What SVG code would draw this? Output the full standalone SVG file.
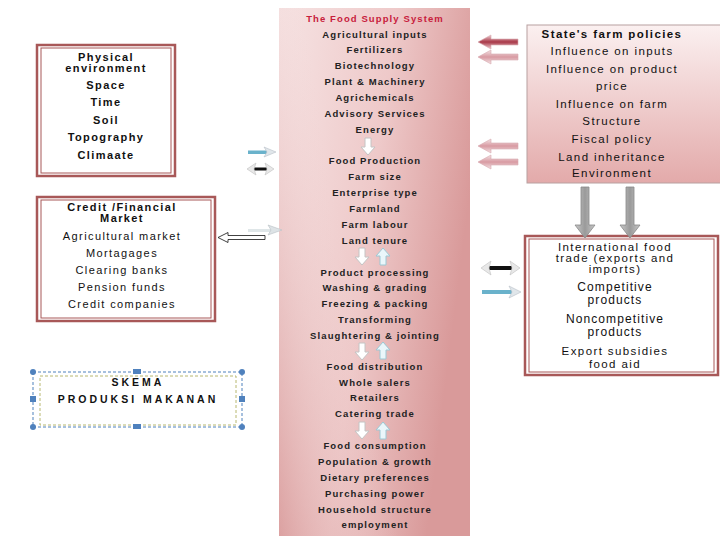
<svg xmlns="http://www.w3.org/2000/svg" width="720" height="540" viewBox="0 0 720 540">
<defs>
<linearGradient id="colg" x1="0" y1="0" x2="1" y2="0.35">
<stop offset="0" stop-color="#f6e3e3"/>
<stop offset="0.55" stop-color="#eec9c9"/>
<stop offset="1" stop-color="#d99a9a"/>
</linearGradient>
<linearGradient id="colg2" x1="0" y1="1" x2="1" y2="0.5">
<stop offset="0" stop-color="#d69494" stop-opacity="0.8"/>
<stop offset="0.5" stop-color="#f2d6d6" stop-opacity="0"/>
</linearGradient>
<linearGradient id="polg" x1="0" y1="0" x2="0" y2="1">
<stop offset="0" stop-color="#fbf0f0"/>
<stop offset="1" stop-color="#e3aaaa"/>
</linearGradient>
<linearGradient id="greyg" x1="0" y1="0" x2="1" y2="0">
<stop offset="0" stop-color="#c8c8c8"/>
<stop offset="0.5" stop-color="#9a9a9a"/>
<stop offset="1" stop-color="#c8c8c8"/>
</linearGradient>
<linearGradient id="redg" x1="0" y1="0" x2="0" y2="1">
<stop offset="0" stop-color="#f0d0d4"/>
<stop offset="0.5" stop-color="#a83848"/>
<stop offset="1" stop-color="#f0d0d4"/>
</linearGradient>
<linearGradient id="pinkg" x1="0" y1="0" x2="0" y2="1">
<stop offset="0" stop-color="#f4e4e6"/>
<stop offset="0.5" stop-color="#d89aa2"/>
<stop offset="1" stop-color="#f4e4e6"/>
</linearGradient>
</defs>
<style>
.c{font-family:"Liberation Sans",Arial,sans-serif;font-size:9.5px;font-weight:bold;letter-spacing:1.1px;fill:#222;text-anchor:middle}
.ct{fill:#c8203c}
.lb{font-family:"Liberation Sans",Arial,sans-serif;font-size:11px;font-weight:bold;letter-spacing:1.4px;fill:#111;text-anchor:middle}
.lr{font-family:"Liberation Sans",Arial,sans-serif;font-size:11px;letter-spacing:1.4px;fill:#111;text-anchor:middle}
.rr{font-family:"Liberation Sans",Arial,sans-serif;font-size:11.5px;letter-spacing:1.4px;fill:#111;text-anchor:middle}
.rl{font-family:"Liberation Sans",Arial,sans-serif;font-size:12px;letter-spacing:1.1px;fill:#111;text-anchor:middle}
.sk{font-family:"Liberation Sans",Arial,sans-serif;font-size:10.5px;font-weight:900;letter-spacing:3px;fill:#111;text-anchor:middle}
.dbl{fill:#fff;stroke:#a85858;stroke-width:2.5}
.dbi{fill:none;stroke:#a85858;stroke-width:1}
.hd{fill:#fff;stroke:#c4c4c4;stroke-width:1}
.hu{fill:#eaf6fa;stroke:#9cc8d4;stroke-width:1}
.h{fill:#4f81bd}
</style>
<rect width="720" height="540" fill="#fff"/>

<g id="food-supply-system">
<rect x="279" y="8" width="191" height="528" fill="url(#colg)"/>
<rect x="279" y="8" width="191" height="528" fill="url(#colg2)"/>
<text class="c ct" x="375" y="22">The Food Supply System</text>
<text class="c" x="375" y="38">Agricultural inputs</text>
<text class="c" x="375" y="53">Fertilizers</text>
<text class="c" x="375" y="69">Biotechnology</text>
<text class="c" x="375" y="85">Plant &amp; Machinery</text>
<text class="c" x="375" y="101">Agrichemicals</text>
<text class="c" x="375" y="117">Advisory Services</text>
<text class="c" x="375" y="133">Energy</text>
<text class="c" x="375" y="164">Food Production</text>
<text class="c" x="375" y="180">Farm size</text>
<text class="c" x="375" y="196">Enterprise type</text>
<text class="c" x="375" y="212">Farmland</text>
<text class="c" x="375" y="228">Farm labour</text>
<text class="c" x="375" y="244">Land tenure</text>
<text class="c" x="375" y="276">Product processing</text>
<text class="c" x="375" y="291">Washing &amp; grading</text>
<text class="c" x="375" y="307">Freezing &amp; packing</text>
<text class="c" x="375" y="323">Transforming</text>
<text class="c" x="375" y="339">Slaughtering &amp; jointing</text>
<text class="c" x="375" y="370">Food distribution</text>
<text class="c" x="375" y="386">Whole salers</text>
<text class="c" x="375" y="401">Retailers</text>
<text class="c" x="375" y="417">Catering trade</text>
<text class="c" x="375" y="449">Food consumption</text>
<text class="c" x="375" y="465">Population &amp; growth</text>
<text class="c" x="375" y="481">Dietary preferences</text>
<text class="c" x="375" y="497">Purchasing power</text>
<text class="c" x="375" y="513">Household structure</text>
<text class="c" x="375" y="528">employment</text>
</g>

<g id="physical-environment">
<rect class="dbl" x="37" y="45" width="138" height="131"/>
<rect class="dbi" x="41" y="48" width="130" height="125"/>
<text class="lb" x="106" y="61">Physical</text>
<text class="lb" x="106" y="72">environment</text>
<text class="lb" x="106" y="89">Space</text>
<text class="lb" x="106" y="106">Time</text>
<text class="lb" x="106" y="124">Soil</text>
<text class="lb" x="106" y="141">Topography</text>
<text class="lb" x="106" y="159">Climaate</text>
</g>

<g id="credit-market">
<rect class="dbl" x="37" y="197" width="178" height="124"/>
<rect class="dbi" x="41" y="200" width="170" height="118"/>
<text class="lb" x="122" y="211">Credit /Financial</text>
<text class="lb" x="122" y="222">Market</text>
<text class="lr" x="122" y="240">Agricultural market</text>
<text class="lr" x="122" y="257">Mortagages</text>
<text class="lr" x="122" y="274">Clearing banks</text>
<text class="lr" x="122" y="291">Pension funds</text>
<text class="lr" x="122" y="308">Credit companies</text>
</g>

<g id="state-farm-policies">
<rect x="527" y="25" width="194" height="158" fill="url(#polg)" stroke="#b8a0a0" stroke-width="1"/>
<text class="rr" x="612" y="38" font-weight="bold">State's farm policies</text>
<text class="rr" x="612" y="55">Influence on inputs</text>
<text class="rr" x="612" y="73">Influence on product</text>
<text class="rr" x="612" y="90">price</text>
<text class="rr" x="612" y="108">Influence on farm</text>
<text class="rr" x="612" y="125">Structure</text>
<text class="rr" x="612" y="143">Fiscal policy</text>
<text class="rr" x="612" y="161">Land inheritance</text>
<text class="rr" x="612" y="177">Environment</text>
</g>

<g id="international-trade">
<rect class="dbl" x="525" y="236" width="193" height="139"/>
<rect class="dbi" x="529" y="239" width="185" height="133"/>
<text class="rr" x="615" y="251">International food</text>
<text class="rr" x="615" y="262">trade (exports and</text>
<text class="rr" x="615" y="273">imports)</text>
<text class="rl" x="615" y="291">Competitive</text>
<text class="rl" x="615" y="304">products</text>
<text class="rl" x="615" y="323">Noncompetitive</text>
<text class="rl" x="615" y="336">products</text>
<text class="rr" x="615" y="355">Export subsidies</text>
<text class="rr" x="615" y="368">food aid</text>
</g>

<g id="skema">
<rect x="33" y="372" width="209" height="55" fill="none" stroke="#4f81bd" stroke-width="1" stroke-dasharray="3,2"/>
<rect x="40" y="376" width="196" height="49" fill="none" stroke="#b8b870" stroke-width="1" stroke-dasharray="3,2"/>
<circle class="h" cx="33" cy="372" r="3"/>
<circle class="h" cx="242" cy="372" r="3"/>
<circle class="h" cx="33" cy="427" r="3"/>
<circle class="h" cx="242" cy="427" r="3"/>
<rect class="h" x="133" y="369" width="8" height="5"/>
<rect class="h" x="133" y="424" width="8" height="5"/>
<rect class="h" x="30" y="396" width="6" height="6"/>
<rect class="h" x="239" y="396" width="6" height="6"/>
<text class="sk" x="138" y="386">SKEMA</text>
<text class="sk" x="138" y="403">PRODUKSI MAKANAN</text>
</g>

<g id="connectors">
<path class="hd" d="M365,138 h6 v9 h4 l-7,8 l-7,-8 h4 z"/>
<path class="hd" d="M359,248 h6 v9 h4 l-7,8 l-7,-8 h4 z"/>
<path class="hu" d="M380,265 h6 v-9 h4 l-7,-8 l-7,8 h4 z"/>
<path class="hd" d="M359,343 h6 v9 h4 l-7,8 l-7,-8 h4 z"/>
<path class="hu" d="M380,359 h6 v-9 h4 l-7,-8 l-7,8 h4 z"/>
<path class="hd" d="M359,422 h6 v9 h4 l-7,8 l-7,-8 h4 z"/>
<path class="hu" d="M380,439 h6 v-9 h4 l-7,-8 l-7,8 h4 z"/>

<rect x="248" y="150.5" width="19" height="3.5" fill="#6ab2cb"/>
<path d="M264,147 L276,152 L264,157 L267,152 Z" fill="#e0e6ea" stroke="#b8c0c8" stroke-width="0.6"/>
<rect x="252" y="167.5" width="17" height="3" fill="#111"/>
<path d="M256,163 L247,169 L256,175 L254,169 Z" fill="#e8e8e8" stroke="#c0c0c0" stroke-width="0.6"/>
<path d="M265,163 L274,169 L265,175 L267,169 Z" fill="#e8e8e8" stroke="#c0c0c0" stroke-width="0.6"/>

<rect x="248" y="229" width="24" height="3" fill="#dfe6e8"/>
<path d="M268,225 L282,230 L268,235 L271,230 Z" fill="#dde3e6" stroke="#b8c0c4" stroke-width="0.6"/>
<path d="M265,235.5 L228,235.5 L228,232.5 L218,237.5 L228,242.5 L228,239.5 L265,239.5 Z" fill="#fff" stroke="#111" stroke-width="0.8"/>

<path d="M518,39 L491,39 L491,35 L478,42 L491,49 L491,45 L518,45 Z" fill="url(#redg)" stroke="#d6a8ae" stroke-width="0.6"/>
<path d="M518,54 L491,54 L491,50 L478,57 L491,64 L491,60 L518,60 Z" fill="url(#pinkg)" stroke="#d6a8ae" stroke-width="0.6"/>
<path d="M518,143 L491,143 L491,139 L478,146 L491,153 L491,149 L518,149 Z" fill="url(#pinkg)" stroke="#d6a8ae" stroke-width="0.6"/>
<path d="M518,159 L491,159 L491,155 L478,162 L491,169 L491,165 L518,165 Z" fill="url(#pinkg)" stroke="#d6a8ae" stroke-width="0.6"/>

<path d="M581,187 h8 v38 h6 l-10,13 l-10,-13 h6 z" fill="url(#greyg)" stroke="#888" stroke-width="0.8"/>
<path d="M626,187 h8 v38 h6 l-10,13 l-10,-13 h6 z" fill="url(#greyg)" stroke="#888" stroke-width="0.8"/>

<rect x="486" y="266" width="28" height="4" rx="2" fill="#111"/>
<path d="M491,261 L481,268 L491,275 L489,268 Z" fill="#e8e8e8" stroke="#c0c0c0" stroke-width="0.6"/>
<path d="M510,261 L520,268 L510,275 L512,268 Z" fill="#e8e8e8" stroke="#c0c0c0" stroke-width="0.6"/>
<rect x="482" y="290" width="30" height="4" fill="#6ab2cb"/>
<path d="M509,286 L521,292 L509,298 L512,292 Z" fill="#e0e6ea" stroke="#b8c0c8" stroke-width="0.6"/>
</g>
</svg>
